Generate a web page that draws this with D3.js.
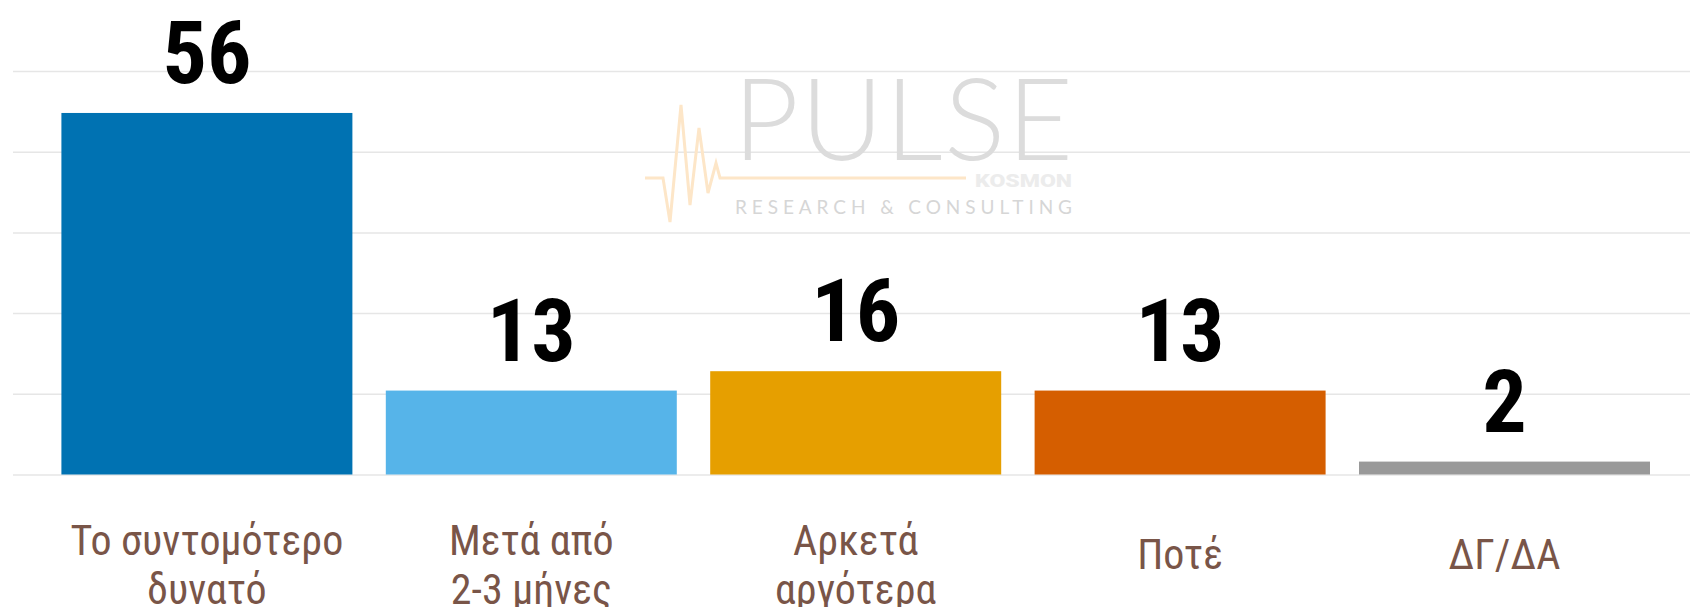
<!DOCTYPE html>
<html>
<head>
<meta charset="utf-8">
<script src="https://cdn.jsdelivr.net/npm/d3@7"></script>
<style>
  body { margin: 0; background: #fff; }
  svg { display: block; }
  .value { font-family: "Roboto Condensed", Roboto, sans-serif; font-stretch: condensed; font-weight: 700; }
  .cat { font-family: "Roboto Condensed", Roboto, sans-serif; font-stretch: condensed; font-weight: 400; }
</style>
</head>
<body>
<svg width="1690" height="607"></svg>
<script>
  // chart data
  const categories = ["Το συντομότερο\nδυνατό", "Μετά από\n2-3 μήνες", "Αρκετά\nαργότερα", "Ποτέ", "ΔΓ/ΔΑ"];
  const values = [56, 13, 16, 13, 2];
  const colors = ["#0072B2", "#56B4E9", "#E69F00", "#D55E00", "#999999"];
  const gridTicks = [0, 12.5, 25, 37.5, 50, 62.5];

  const svg = d3.select('svg');
  const width = 1690, height = 607;

  const x = d3.scaleBand()
    .domain(categories)
    .range([44.7, 1666.7])
    .paddingInner(0.103)
    .paddingOuter(0.0515);

  const y = d3.scaleLinear()
    .domain([0, 62.5])
    .range([474.5, 71]);

  // gridlines
  svg.append('g')
    .attr('class', 'grid')
    .attr('transform', 'translate(13,0)')
    .call(d3.axisRight(y).tickValues(gridTicks).tickSize(width - 13).tickFormat(''))
    .call(g => g.select('.domain').remove())
    .selectAll('line')
      .attr('stroke', '#e6e6e6')
      .attr('stroke-width', 1.5);

  // watermark logo
  const logo = svg.append('g').attr('class', 'logo');
  const pulse = [[645,178],[663,178],[670,222],[681,105],[690,205],[699,128],[708,193],[716,163],[720,178],[966,178]];
  logo.append('path')
    .attr('d', d3.line()(pulse))
    .attr('fill', 'none')
    .attr('stroke', '#fde6c8')
    .attr('stroke-width', 3);
  logo.append('text')
    .attr('x', 733).attr('y', 160)
    .attr('textLength', 340).attr('lengthAdjust', 'spacing')
    .style('font-family', 'Lato, "Open Sans", sans-serif')
    .style('font-weight', 300)
    .style('font-size', '114px')
    .attr('fill', '#dcdcdc')
    .text('PULSE');
  logo.append('text')
    .attr('x', 975).attr('y', 187)
    .attr('textLength', 97).attr('lengthAdjust', 'spacingAndGlyphs')
    .style('font-family', 'Roboto, sans-serif')
    .style('font-weight', 900)
    .style('font-size', '18px')
    .attr('fill', '#ececec')
    .text('KOSMON');
  logo.append('text')
    .attr('x', 735).attr('y', 214)
    .attr('textLength', 337).attr('lengthAdjust', 'spacing')
    .style('font-family', 'Lato, "Open Sans", sans-serif')
    .style('font-weight', 400)
    .style('font-size', '19px')
    .attr('fill', '#d6d6d6')
    .text('RESEARCH & CONSULTING');

  // bars
  svg.selectAll('.bar')
    .data(values)
    .enter()
    .append('rect')
      .attr('class', 'bar')
      .attr('x', (d, i) => x(categories[i]))
      .attr('y', d => y(d))
      .attr('width', x.bandwidth())
      .attr('height', d => y(0) - y(d))
      .attr('fill', (d, i) => colors[i]);

  // value labels
  svg.selectAll('.value')
    .data(values)
    .enter()
    .append('text')
      .attr('class', 'value')
      .attr('x', (d, i) => x(categories[i]) + x.bandwidth() / 2)
      .attr('y', d => y(d) - 30)
      .attr('text-anchor', 'middle')
      .style('font-size', '88px')
      .attr('fill', '#000')
      .text(d => d);

  // category labels
  const cats = svg.selectAll('.cat')
    .data(categories)
    .enter()
    .append('text')
      .attr('class', 'cat')
      .attr('x', d => x(d) + x.bandwidth() / 2)
      .attr('y', d => d.includes('\n') ? 555 : 569)
      .attr('text-anchor', 'middle')
      .style('font-size', '42px')
      .attr('fill', '#795548');
  cats.each(function (d) {
    const lines = d.split('\n');
    d3.select(this).selectAll('tspan')
      .data(lines)
      .enter()
      .append('tspan')
        .attr('x', x(d) + x.bandwidth() / 2)
        .attr('dy', (l, j) => j === 0 ? 0 : 49)
        .text(l => l);
  });
</script>
</body>
</html>
